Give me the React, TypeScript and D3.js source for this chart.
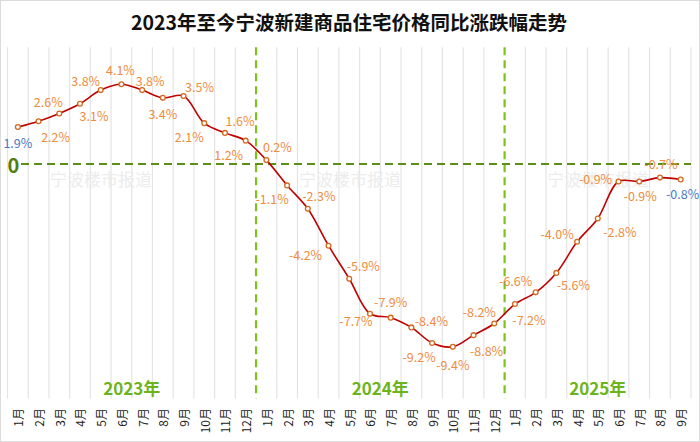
import React from 'react';
import * as d3 from 'd3';

const months = [
  '1月','2月','3月','4月','5月','6月','7月','8月','9月','10月','11月','12月',
  '1月','2月','3月','4月','5月','6月','7月','8月','9月','10月','11月','12月',
  '1月','2月','3月','4月','5月','6月','7月','8月','9月',
];
const values = [
  1.9, 2.2, 2.6, 3.1, 3.8, 4.1, 3.8, 3.4, 3.5, 2.1, 1.6, 1.2,
  0.2, -1.1, -2.3, -4.2, -5.9, -7.7, -7.9, -8.4, -9.2, -9.4, -8.8, -8.2,
  -7.2, -6.6, -5.6, -4.0, -2.8, -0.9, -0.9, -0.7, -0.8,
];
const years = ['2023年', '2024年', '2025年'];
const yearCounts = [12, 12, 9];
const title = '2023年至今宁波新建商品住宅价格同比涨跌幅走势';
const watermark = '宁波楼市报道';

// label placement (style): offset of label centre from its point
const labelOffsets: [number, number][] = [
  [0, 15], [17, 15], [-11, -12], [14, 12], [-15, -10], [-1, -15], [8, -10], [0, 16], [16, -9], [-15, 13], [15, -12], [-17, 14],
  [11, -14], [-15, 13], [11, -13], [-23, 9], [14, -13], [-14, 7], [0, -16], [20, -7], [-13, 14], [0, 18], [13, 15], [-15, -12],
  [14, 15], [-20, -12], [17, 12], [-20, -8], [22, 13], [-23, -3], [1, 14], [1, -14], [2, 14],
];

const W = 700;
const H = 442;
const plotTop = 47.3;
const plotBottom = 397.4;

export default function App() {
  const idx = values.map((_, i) => i);
  const x = d3.scaleBand<number>().domain(idx).range([7.5, 691]).padding(0);
  const step = x.step();
  const cx = (i: number) => (x(i) as number) + x.bandwidth() / 2;
  const y = d3.scaleLinear().domain([-12, 6]).range([plotBottom, plotTop]);

  const line = d3
    .line<number>()
    .x((_, i) => cx(i))
    .y((d) => y(d))
    .curve(d3.curveCatmullRom.alpha(0.5));

  const boundaries = d3.range(values.length + 1).map((i) => 7.5 + i * step);
  const yearStarts: number[] = [];
  let acc = 0;
  yearCounts.forEach((c) => {
    yearStarts.push(acc);
    acc += c;
  });
  const sepIdx = yearStarts.slice(1);

  const font = '"Noto Sans CJK SC", "Noto Sans", sans-serif';
  const orange = '#f08c3c';
  const blue = '#4a78c8';

  return (
    <svg
      width={W}
      height={H}
      style={{ position: 'absolute', left: 0, top: 0, display: 'block', background: '#fff' }}
      fontFamily={font}
    >
      <rect x={0.5} y={0.5} width={W - 1} height={H - 1} fill="#fff" stroke="#dcdcdc" />
      <text x={349} y={30} textAnchor="middle" fontSize={19.5} fontWeight="bold" fill="#111">
        {title}
      </text>

      {/* grid */}
      {boundaries.map((b, i) =>
        sepIdx.includes(i) ? null : (
          <line key={'g' + i} x1={b} x2={b} y1={plotTop} y2={plotBottom + 1} stroke="#e4e4e4" strokeWidth={1.2} />
        )
      )}

      {/* watermarks */}
      {[101, 350, 598].map((wx, i) => (
        <text key={'w' + i} x={wx} y={178} textAnchor="middle" dominantBaseline="central" fontSize={17} fill="#ececec">
          {watermark}
        </text>
      ))}

      {/* year separators */}
      {sepIdx.map((i) => (
        <line
          key={'s' + i}
          x1={boundaries[i]}
          x2={boundaries[i]}
          y1={plotTop}
          y2={plotBottom + 1}
          stroke="#7cc21a"
          strokeWidth={2.2}
          strokeDasharray="8,5"
        />
      ))}

      {/* zero line */}
      <line x1={21} x2={691} y1={y(0)} y2={y(0)} stroke="#5b8f16" strokeWidth={2.2} strokeDasharray="8,5" />
      <text x={13.5} y={y(0)} textAnchor="middle" dominantBaseline="central" fontSize={20} fontWeight="bold" fill="#4f800c">
        0
      </text>

      {/* year labels */}
      {years.map((yr, k) => {
        const a = boundaries[yearStarts[k]];
        const b = boundaries[yearStarts[k] + yearCounts[k]];
        return (
          <text key={yr} x={(a + b) / 2} y={387} textAnchor="middle" dominantBaseline="central" fontSize={17} fontWeight="bold" fill="#6cb41c">
            {yr}
          </text>
        );
      })}

      {/* line */}
      <path d={line(values) || ''} fill="none" stroke="#c00000" strokeWidth={1.6} />
      {values.map((v, i) => (
        <circle key={'c' + i} cx={cx(i)} cy={y(v)} r={2.4} fill="#fff" stroke="#d2691e" strokeWidth={1.3} />
      ))}

      {/* value labels */}
      {values.map((v, i) => {
        const [dx, dy] = labelOffsets[i];
        const isEnd = i === 0 || i === values.length - 1;
        return (
          <text
            key={'l' + i}
            x={cx(i) + dx}
            y={y(v) + dy}
            textAnchor="middle"
            dominantBaseline="central"
            fontSize={12.5}
            fill={isEnd ? blue : orange}
          >
            {v.toFixed(1) + '%'}
          </text>
        );
      })}

      {/* x axis labels */}
      {months.map((m, i) => (
        <text
          key={'m' + i}
          transform={`translate(${cx(i)},408) rotate(-90)`}
          textAnchor="end"
          dominantBaseline="central"
          fontSize={12}
          fill="#222"
        >
          {m}
        </text>
      ))}
    </svg>
  );
}
